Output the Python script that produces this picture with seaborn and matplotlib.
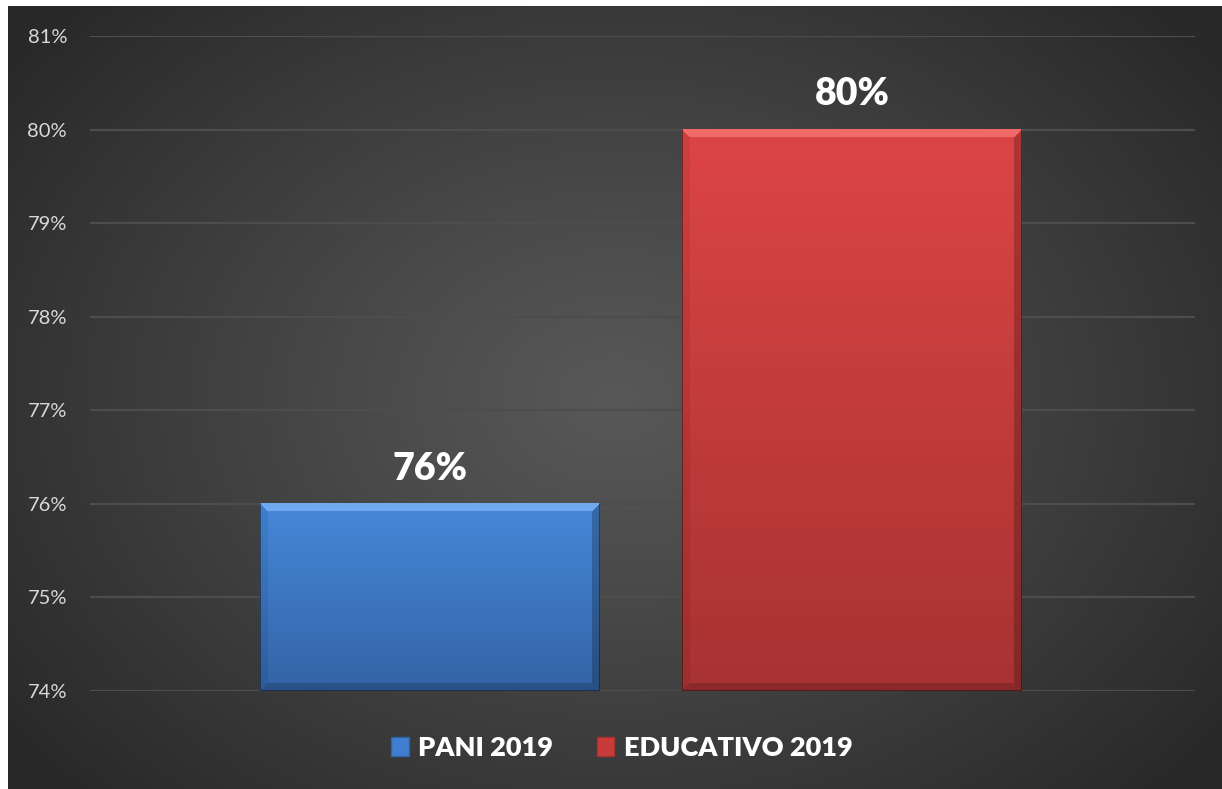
import numpy as np
import pandas as pd
import matplotlib
matplotlib.use("Agg")
import matplotlib.pyplot as plt
import seaborn as sns
from matplotlib.patches import Patch
from matplotlib.ticker import FuncFormatter

# ---- data ----
series = ["PANI 2019", "EDUCATIVO 2019"]
values = [0.76, 0.80]
labels = ["76%", "80%"]
yticks = [0.74, 0.75, 0.76, 0.77, 0.78, 0.79, 0.80, 0.81]

colors = ["#3f7ed0", "#c93b3b"]
tops = ["#4688d9", "#dd4545"]
bottoms = ["#3363a5", "#a83232"]
bevel_top = ["#6fa9ef", "#f06a6a"]

df = pd.DataFrame({"serie": series, "valor": values})

sns.set_theme(style="dark")
plt.rcParams["font.family"] = ["Lato", "DejaVu Sans"]

W, H = 1222, 789
fig = plt.figure(figsize=(W / 100, H / 100), dpi=100)
fig.patch.set_facecolor("white")

# background radial gradient (chart area starts at x=8, y=6)
bg_ax = fig.add_axes([8 / W, 0, (W - 8) / W, (H - 6) / H], zorder=-10)
bh, bw = H - 6, W - 8
yy, xx = np.mgrid[0:bh, 0:bw]
cx, cy = bw * 0.5, bh * 0.5
r = np.sqrt(((xx - cx) / (bw * 0.62)) ** 2 + ((yy - cy) / (bh * 0.72)) ** 2)
r = np.clip(r, 0, 1)
c_center = np.array([0x58, 0x58, 0x58]) / 255
c_edge = np.array([0x29, 0x29, 0x29]) / 255
img = c_center[None, None, :] + (c_edge - c_center)[None, None, :] * (r[..., None] ** 1.1)
bg_ax.imshow(img, aspect="auto", interpolation="bilinear")
bg_ax.axis("off")

ax = fig.add_axes([90 / W, 1 - 691 / H, (1195 - 90) / W, (691 - 36) / H])
ax.set_facecolor("none")

sns.barplot(data=df, x="serie", y="valor", hue="serie", palette=colors,
            width=0.805, legend=False, ax=ax, zorder=3, saturation=1,
            linewidth=0, edgecolor="none")

ax.set_ylim(0.74, 0.81)
ax.set_xlim(-0.806, 1.813)
ax.set_yticks(yticks)
ax.yaxis.set_major_formatter(FuncFormatter(lambda v, p: f"{v*100:.0f}%"))
ax.tick_params(axis="y", length=0, pad=16.5, labelsize=14.5, labelcolor="#d9d9d9")
ax.set_xticks([])
ax.set_xlabel("")
ax.set_ylabel("")
ax.grid(axis="y", color="#4d4d4d", linewidth=1.6, zorder=0)
ax.grid(axis="x", visible=False)
for s in ax.spines.values():
    s.set_visible(False)

# gradient / bevel fill on each bar
fig.canvas.draw()
for i, patch in enumerate(ax.patches[:2]):
    x0 = patch.get_x()
    x1 = x0 + patch.get_width()
    top = patch.get_height()
    bot = 0.74
    p0 = ax.transData.transform((x0, bot))
    p1 = ax.transData.transform((x1, top))
    wpx = int(round(p1[0] - p0[0]))
    hpx = int(round(p1[1] - p0[1]))
    t = np.linspace(0, 1, hpx)[:, None]
    ct = np.array(matplotlib.colors.to_rgb(tops[i]))
    cb = np.array(matplotlib.colors.to_rgb(bottoms[i]))
    arr = ct[None, None, :] * (1 - t[..., None]) + cb[None, None, :] * t[..., None]
    arr = np.repeat(arr, wpx, axis=1)
    yy2, xx2 = np.mgrid[0:hpx, 0:wpx]
    bev = 8
    btc = np.array(matplotlib.colors.to_rgb(bevel_top[i]))
    mask_top = (yy2 < bev) & (xx2 >= yy2) & (wpx - 1 - xx2 >= yy2)
    arr[mask_top] = btc
    mask_bot = (hpx - 1 - yy2 < bev) & (xx2 >= hpx - 1 - yy2) & (wpx - 1 - xx2 >= hpx - 1 - yy2)
    arr[mask_bot] = arr[mask_bot] * 0.82
    mask_left = (xx2 < bev) & ~mask_top & ~mask_bot
    arr[mask_left] = arr[mask_left] * 0.93
    mask_right = (wpx - 1 - xx2 < bev) & ~mask_top & ~mask_bot
    arr[mask_right] = arr[mask_right] * 0.78
    edge = (xx2 < 1) | (xx2 > wpx - 2) | (yy2 > hpx - 2)
    arr[edge] = arr[edge] * 0.6
    ax.imshow(np.clip(arr, 0, 1), extent=(x0, x1, bot, top), aspect="auto",
              zorder=4, interpolation="bilinear")
    ax.text(x0 + patch.get_width() / 2, top + 0.0026, labels[i], ha="center",
            va="baseline", fontsize=27, fontweight="heavy", color="white", zorder=5)

ax.set_xlim(-0.806, 1.813)
ax.set_ylim(0.74, 0.81)

handles = [Patch(facecolor=colors[i], edgecolor=bottoms[i], label=series[i]) for i in range(2)]
leg = fig.legend(handles=handles, loc="center", bbox_to_anchor=(622 / W, 1 - 748 / H),
                 ncol=2, frameon=False, handlelength=0.65, handleheight=0.65,
                 handletextpad=0.35, columnspacing=1.6,
                 prop={"family": ["Lato", "DejaVu Sans"], "weight": "heavy", "size": 19.5})
for txt in leg.get_texts():
    txt.set_color("white")

fig.savefig("out.png", dpi=100, facecolor=fig.get_facecolor())
